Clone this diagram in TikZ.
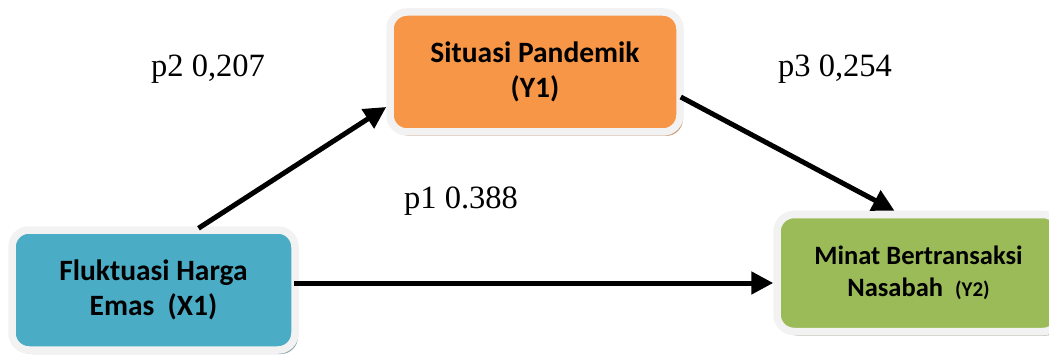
\documentclass[tikz,border=0pt]{standalone}
\usepackage{fontspec}
\setmainfont{Liberation Serif}
\newfontfamily\boxfont{Carlito}
\usetikzlibrary{arrows.meta,calc,shadows}
\definecolor{tealbox}{HTML}{4BACC6}
\definecolor{orangebox}{HTML}{F79646}
\definecolor{greenbox}{HTML}{9BBB59}
\definecolor{framecol}{HTML}{F2F2F2}
\definecolor{shadowteal}{HTML}{98AEB3}
\definecolor{shadowtan}{HTML}{C9A07E}
\definecolor{shadowgreen}{HTML}{A5AE96}
\tikzset{
  varbox/.style={draw=framecol, line width=7.5pt, rounded corners=17pt, inner sep=0pt,
    align=center, font=\boxfont\bfseries\fontsize{29.5}{35}\selectfont, text=black},
  pathlabel/.style={anchor=base, font=\fontsize{32.5}{36}\selectfont, inner sep=0pt},
  conn/.style={line width=5pt, -{Triangle[length=22pt,width=22pt]}}
}
\begin{document}
\begin{tikzpicture}[x=1pt,y=-1pt]
\useasboundingbox (0,0) rectangle (1049,358);
\node[varbox, fill=tealbox, minimum width=283pt, minimum height=120pt,
  drop shadow={shadow xshift=3pt, shadow yshift=-4pt, fill=shadowteal, opacity=1}]
  (x1) at (153.5,290) {Fluktuasi Harga\\Emas~~(X1)};
\node[varbox, fill=orangebox, minimum width=290pt, minimum height=120pt,
  drop shadow={shadow xshift=3pt, shadow yshift=-4pt, fill=shadowtan, opacity=1}]
  (y1) at (535,72) {Situasi Pandemik\\(Y1)};
\node[varbox, fill=greenbox, minimum width=283pt, minimum height=117pt,
  font=\boxfont\bfseries\fontsize{26.5}{32}\selectfont,
  drop shadow={shadow xshift=3pt, shadow yshift=-4pt, fill=shadowgreen, opacity=1}]
  (y2) at (918.5,273) {Minat Bertransaksi\\Nasabah~~{\fontsize{21}{32}\selectfont(Y2)}};
\node[pathlabel] (p2) at (208,77) {p2 0,207};
\node[pathlabel] (p3) at (835,77) {p3 0,254};
\node[pathlabel] (p1) at (461,208) {p1 0.388};
\draw[conn] ([xshift=45pt,yshift=-2pt]x1.north) -- ([yshift=-35pt]y1.west);
\draw[conn] ([yshift=-25pt,xshift=-3pt]y1.east) -- ([xshift=-24pt]y2.north);
\draw[conn] ([yshift=7pt,xshift=-5pt]x1.east) coordinate (s) -- (s -| y2.west);
\end{tikzpicture}
\end{document}
